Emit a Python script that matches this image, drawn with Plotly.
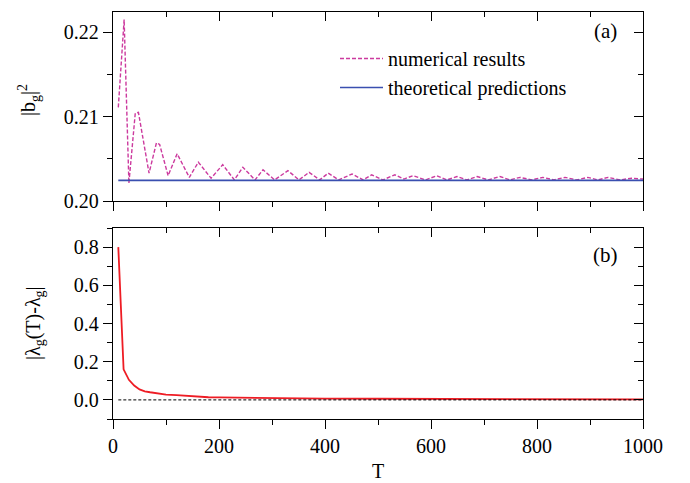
import plotly.graph_objects as go

# ---- data ----
T_num = [10, 21, 30, 42, 48, 68, 82, 88, 104, 121, 144, 161, 185, 207, 229, 245, 268, 283, 305,
         330, 351, 370, 390, 406, 426, 451, 472, 488, 509, 532, 549, 566, 590, 611, 630, 649,
         668, 687, 708, 730, 749, 768, 790, 811, 832, 853, 875, 896, 915, 934, 957, 979, 1000]
b_num = [0.2111, 0.2215, 0.2021, 0.2104, 0.2105, 0.2033, 0.2069, 0.2067, 0.2030, 0.2056,
         0.2028, 0.2046, 0.2027, 0.2043, 0.2025, 0.2040, 0.2025, 0.2037, 0.2025, 0.2036,
         0.2025, 0.2034, 0.2025, 0.2033, 0.2025, 0.2032, 0.2025, 0.2031, 0.2025, 0.2031,
         0.2026, 0.2030, 0.2025, 0.2030, 0.2025, 0.2029, 0.2025, 0.2029, 0.2025, 0.2029,
         0.2025, 0.2028, 0.2025, 0.2028, 0.2025, 0.2028, 0.2025, 0.2028, 0.2025, 0.2028,
         0.2025, 0.2027, 0.2026]
T_theo = [10, 1000]
b_theo = [0.20245, 0.20245]

T_lam = [10, 20, 30, 40, 50, 60, 70, 80, 90, 100, 120, 140, 160, 180, 200, 250, 300, 350,
         400, 500, 600, 700, 800, 900, 1000]
lam_diff = [0.80, 0.16, 0.105, 0.075, 0.055, 0.045, 0.040, 0.035, 0.030, 0.028, 0.025, 0.020,
            0.018, 0.014, 0.013, 0.011, 0.009, 0.008, 0.007, 0.006, 0.005, 0.004, 0.004,
            0.003, 0.003]
T_zero = [10, 1000]
zero_line = [0.0, 0.0]

W, H = 690, 483
FONT = "'Liberation Serif', 'Times New Roman', serif"

def px_x(p):
    return p / W

def px_y(p):
    return 1 - p / H

xdom = [px_x(113), px_x(643)]
ydom_top = [px_y(201), px_y(12)]
ydom_bot = [px_y(419), px_y(228)]

fig = go.Figure()
fig.add_trace(go.Scatter(x=T_num, y=b_num, mode="lines", name="numerical results",
                         line=dict(color="#cc3a9e", width=1.4, dash="4px,2px"),
                         xaxis="x", yaxis="y"))
fig.add_trace(go.Scatter(x=T_theo, y=b_theo, mode="lines", name="theoretical predictions",
                         line=dict(color="#3a4fb0", width=1.6),
                         xaxis="x3", yaxis="y3"))
fig.add_trace(go.Scatter(x=T_lam, y=lam_diff, mode="lines", showlegend=False,
                         line=dict(color="#ee1c24", width=1.8),
                         xaxis="x2", yaxis="y2"))
fig.add_trace(go.Scatter(x=T_zero, y=zero_line, mode="lines", showlegend=False,
                         line=dict(color="black", width=1, dash="3px,2px"),
                         xaxis="x4", yaxis="y4"))

axcommon = dict(showline=True, linecolor="black", linewidth=1.3, showgrid=False,
                zeroline=False, tickcolor="black", tickwidth=1.2, mirror=False,
                automargin=False,
                tickfont=dict(family=FONT, size=20, color="black"))

xr = [0, 1000]
yr_top = [0.20, 0.2224]
yr_bot = [-0.1, 0.9]

def minor(kind, dt, t0):
    return dict(ticks=kind, ticklen=5, dtick=dt, tick0=t0, tickcolor="black", tickwidth=1.2)

def label(text, x, y, size=20, angle=0):
    return dict(text=text, x=px_x(x), y=px_y(y), xref="paper", yref="paper",
                xanchor="center", yanchor="middle", showarrow=False, textangle=angle,
                font=dict(family=FONT, size=size, color="black"))

fig.update_layout(
    template="none",
    width=W, height=H, margin=dict(l=0, r=0, t=0, b=0, pad=0), autosize=False,
    plot_bgcolor="white", paper_bgcolor="white",
    font=dict(family=FONT, size=20, color="black"),
    xaxis=dict(domain=xdom, anchor="y", range=xr, ticks="outside", ticklen=9, dtick=200,
               tick0=0, showticklabels=False, minor=minor("outside", 100, 0), **axcommon),
    xaxis2=dict(domain=xdom, anchor="y2", range=xr, ticks="outside", ticklen=9, dtick=200,
                tick0=0, showticklabels=True, minor=minor("outside", 100, 0), **axcommon),
    xaxis3=dict(overlaying="x", side="top", anchor="y", range=xr, ticks="inside", ticklen=9,
                dtick=200, tick0=0, showticklabels=False, minor=minor("inside", 100, 0),
                **axcommon),
    xaxis4=dict(overlaying="x2", side="top", anchor="y2", range=xr, ticks="inside", ticklen=9,
                dtick=200, tick0=0, showticklabels=False, minor=minor("inside", 100, 0),
                **axcommon),
    yaxis=dict(domain=ydom_top, anchor="x", range=yr_top, ticks="outside", ticklen=9,
               dtick=0.01, tick0=0.2, tickformat=".2f", minor=minor("outside", 0.005, 0.2),
               **axcommon),
    yaxis2=dict(domain=ydom_bot, anchor="x2", range=yr_bot, ticks="outside", ticklen=9,
                dtick=0.2, tick0=0, tickformat=".1f", minor=minor("outside", 0.1, 0),
                **axcommon),
    yaxis3=dict(overlaying="y", side="right", anchor="x", range=yr_top, ticks="inside",
                ticklen=9, dtick=0.01, tick0=0.2, showticklabels=False,
                minor=minor("inside", 0.005, 0.2), **axcommon),
    yaxis4=dict(overlaying="y2", side="right", anchor="x2", range=yr_bot, ticks="inside",
                ticklen=9, dtick=0.2, tick0=0, showticklabels=False,
                minor=minor("inside", 0.1, 0), **axcommon),
    legend=dict(x=px_x(335), y=px_y(39), xanchor="left", yanchor="top",
                bgcolor="rgba(0,0,0,0)", itemwidth=43, borderwidth=0,
                font=dict(family=FONT, size=20, color="black")),
    annotations=[
        label("(a)", 605, 31, 21),
        label("(b)", 605, 255, 21),
        label("|b<sub>g</sub>|<sup>2</sup>", 29, 100, 20, -90),
        label("|λ<sub>g</sub>(T)-λ<sub>g</sub>|", 34, 323, 20, -90),
        label("T", 378, 471, 20),
    ],
)

fig.write_html("out.html")
